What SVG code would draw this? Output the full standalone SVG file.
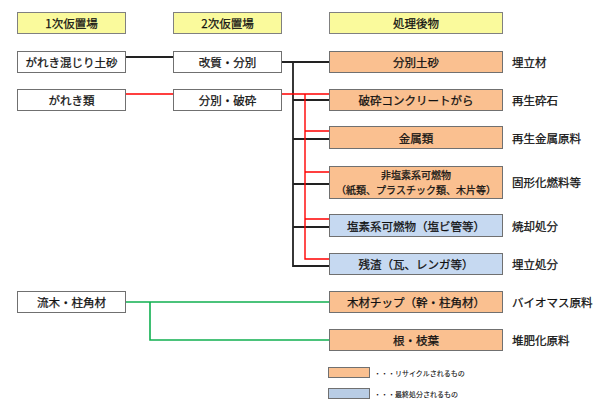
<svg xmlns="http://www.w3.org/2000/svg" width="600" height="408" viewBox="0 0 600 408">
<style>
text{font-family:"Noto Sans CJK JP","Noto Sans",sans-serif;font-size:11.5px;fill:#111;stroke:#111;stroke-width:0.25;dominant-baseline:central}
.c{text-anchor:middle}
.hd{fill:#FAFA9C;stroke:#808080;stroke-width:1}
.wb{fill:#fff;stroke:#707070;stroke-width:1}
.or{fill:#FAC090;stroke:#707070;stroke-width:1}
.bl{fill:#C6D9F1;stroke:#707070;stroke-width:1}
.k{stroke:#222;stroke-width:1.8;fill:none}
.r{stroke:#FF0000;stroke-width:1.4;fill:none}
.g{stroke:#10B050;stroke-width:1.6;fill:none}
.sm{font-size:10px}
.lg{font-size:7px;stroke-width:0.1}
</style>
<rect width="600" height="408" fill="#fff"/>
<g id="connectors">
<path class="k" d="M125 57H173M281 62H329M293 62V266H329M293 100H329M293 139H329M293 184H329M293 227H329"/>
<path class="r" d="M125 94H173M281 94H329M305 94V259H329M305 131H329M305 172H329M305 219H329"/>
<path class="g" d="M125 302H329M150 302V340H329"/>
</g>
<g id="h1"><rect class="hd" x="17.5" y="12.5" width="108" height="21"/><text class="c" x="71.5" y="23">1次仮置場</text></g>
<g id="h2"><rect class="hd" x="173.5" y="12.5" width="108" height="21"/><text class="c" x="227.5" y="23">2次仮置場</text></g>
<g id="h3"><rect class="hd" x="329.5" y="12.5" width="173" height="21"/><text class="c" x="416" y="23">処理後物</text></g>
<g id="n1"><rect class="wb" x="17.5" y="51.5" width="108" height="21"/><text class="c" x="71.5" y="62">がれき混じり土砂</text></g>
<g id="n2"><rect class="wb" x="17.5" y="89.5" width="108" height="21"/><text class="c" x="71.5" y="100">がれき類</text></g>
<g id="n3"><rect class="wb" x="17.5" y="291.5" width="108" height="21"/><text class="c" x="71.5" y="302">流木・柱角材</text></g>
<g id="m1"><rect class="wb" x="173.5" y="51.5" width="108" height="21"/><text class="c" x="227.5" y="62">改質・分別</text></g>
<g id="m2"><rect class="wb" x="173.5" y="89.5" width="108" height="21"/><text class="c" x="227.5" y="100">分別・破砕</text></g>
<g id="o1"><rect class="or" x="329.5" y="51.5" width="173" height="21"/><text class="c" x="416" y="62">分別土砂</text><text x="512" y="62">埋立材</text></g>
<g id="o2"><rect class="or" x="329.5" y="89.5" width="173" height="21"/><text class="c" x="416" y="100">破砕コンクリートがら</text><text x="512" y="100">再生砕石</text></g>
<g id="o3"><rect class="or" x="329.5" y="126.5" width="173" height="22"/><text class="c" x="416" y="137.5">金属類</text><text x="512" y="137.5">再生金属原料</text></g>
<g id="o4"><rect class="or" x="329.5" y="166.5" width="173" height="32"/><text class="c sm" x="416" y="174">非塩素系可燃物</text><text class="c sm" x="416" y="189">（紙類、プラスチック類、木片等）</text><text x="512" y="182">固形化燃料等</text></g>
<g id="o5"><rect class="bl" x="329.5" y="214.5" width="173" height="22"/><text class="c" x="416" y="225.5">塩素系可燃物（塩ビ管等）</text><text x="512" y="225.5">焼却処分</text></g>
<g id="o6"><rect class="bl" x="329.5" y="253.5" width="173" height="21"/><text class="c" x="416" y="264">残渣（瓦、レンガ等）</text><text x="512" y="264">埋立処分</text></g>
<g id="o7"><rect class="or" x="329.5" y="291.5" width="173" height="21"/><text class="c" x="416" y="302">木材チップ（幹・柱角材）</text><text x="512" y="302">バイオマス原料</text></g>
<g id="o8"><rect class="or" x="329.5" y="329.5" width="173" height="21"/><text class="c" x="416" y="340">根・枝葉</text><text x="512" y="340">堆肥化原料</text></g>
<g id="legend">
<rect class="or" x="328.5" y="367.5" width="41" height="10"/><text class="lg" x="374" y="372.5">・・・リサイクルされるもの</text>
<rect x="328.5" y="388.5" width="41" height="10" fill="#B9CDE5" stroke="#707070"/><text class="lg" x="374" y="393.5">・・・最終処分されるもの</text>
</g>
</svg>
